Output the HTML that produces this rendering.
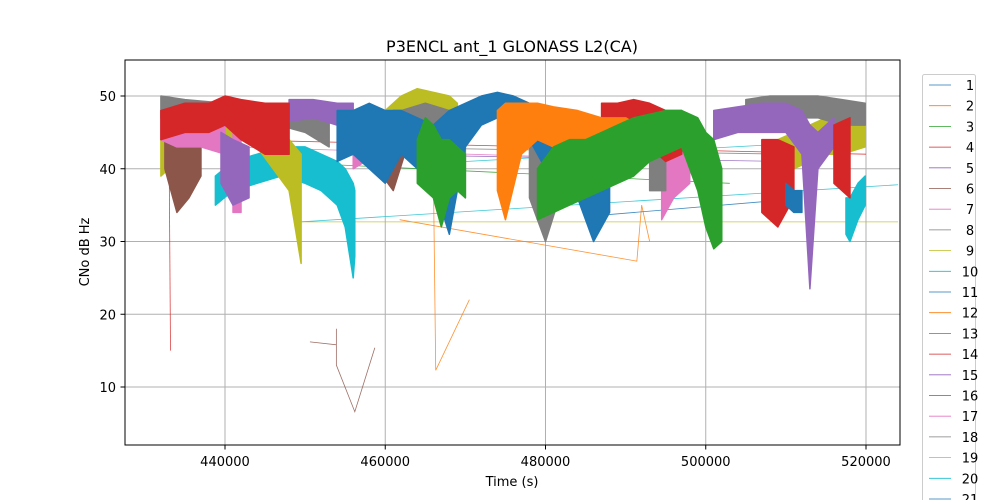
<!DOCTYPE html>
<html><head><meta charset="utf-8"><style>
html,body{margin:0;background:#fff;overflow:hidden;width:1000px;height:500px;}
svg{display:block;}
svg text{font-family:"DejaVu Sans","Liberation Sans",sans-serif;fill:#000;}
</style></head><body>
<svg id="chart" width="1000" height="500" viewBox="0 0 1000 500" xmlns="http://www.w3.org/2000/svg">
<rect x="0" y="0" width="1000" height="500" fill="#fff"/>
<text x="512" y="52" font-size="16" text-anchor="middle">P3ENCL ant_1 GLONASS L2(CA)</text>
<g id="grid"></g>
<g id="plot"></g>
<rect x="125" y="60" width="775" height="385" fill="none" stroke="#000" stroke-width="1"/>
<g id="axes"></g>
<text x="512" y="486" font-size="13" text-anchor="middle">Time (s)</text>
<text x="89" y="252" font-size="13" text-anchor="middle" transform="rotate(-90 89 252)">CNo dB Hz</text>
<g id="legend"></g>
</svg>
<script>
const xTicks=[440000,460000,480000,500000,520000];
const yTicks=[10,20,30,40,50];
const seriesIds=[1,2,3,4,5,6,7,8,9,10,11,12,13,14,15,16,17,18,19,20,21];
const colors=['#1f77b4','#ff7f0e','#2ca02c','#d62728','#9467bd','#8c564b','#e377c2','#7f7f7f','#bcbd22','#17becf'];
const bandColor=[9,9,8,8,8,5,5,6,6,6,6,7,7,7,7,7,4,4,4,3,3,3,3,0,0,1,2,2];
const bandT=[
[438.8,441,444,447,450,452,454,455,456,456.2],[517.5,518,519,519.9],
[432,433,434,436,438,440,442,444,446,448,449.5],[460,462,464,466,468,469],[509,511,513,515,517,519.9],
[432.5,434,435.5,437],[459,461,463,465],[432,434,437,440],[441,442],[456,459,461],[494.5,496,498],
[432,435,440,445,450,453],[459,462,465,468,470],[478,480,482],[493,495],[505,508,511,514,517,519.9],
[439.5,441,443],[448,451,454,456],[501,504,507,510,512,513,514,516],
[432,435,438,440,442,445,448],[487,489,491,493,495,497],[507,509,511],[516,518],
[454,456,458,460,462,464,466,468,470,472,474,476,478,480,482,484,486,488],[510,511,512],
[474,475,477,479,481,484,487,490,491.5],
[464,465,466,467,468,469,470],[479,481,483,485,487,489,491,493,495,497,499,500,501,502]];
const bandHi=[
[39,41,42,43,43,42,41,40,38,37],[36,36,38,39],
[44,46,46,47,47,47,48,47,46,44,42],[48,50,51,50.5,50,49],[44,45,46,47,47,48],
[46,45,44,43],[47,48,48,47],[48,47,47,46],[46,46],[47,48,47],[46,47,46],
[50,49.5,49,49,49,48],[47,48,49,48,47],[45,46,45],[46,46],[49.5,50,50,50,49.5,49],
[45,44,43],[49.5,49.5,49,49],[48,48.5,49,49,48,46,45,47],
[48,49,49,50,49.5,49,49],[49,49,49.5,49,48,48],[44,44,43],[46,47],
[48,48,49,48,48,47,46,48,49,50,50.5,50,49,48,46,45,44,42],[38,37,37],
[48,49,49,49,48.5,48,47,47,46],
[44,47,46,44,44,43,42],[40,43,44,44,45,46,47,47.5,48,48,47,45,44,40]];
const bandLo=[
[35,37,38,39,38,37,35,32,25,28],[31,30,33,35],
[39,40,41,43,43,43,44,43,40,37,27],[42,46,47,47,46,44],[38,40,41,42,42,43],
[40,34,36,39],[40,37,44,42],[44,43,43,42],[34,34],[40,42,41],[33,36,38],
[47,47,47,46.5,45,43],[40,43,44,41,36],[36,30,37],[37,37],[46,46.5,47,47,46,46],
[38,35,36],[46.5,47,46,46],[44,45,45,45,42,23.5,40,43],
[44,45,45,46,44,42,42],[43,44,44,43,41,42],[34,32,36],[38,36],
[41,42,40,38,42,40,38,31,43,46,47,46,44,40,38,36,30,34],[35,34,34],
[37,33,42,44,43,42,41,43,41],
[38,37,36,32,36,37,36],[33,34,35,36,37,38,39,41,42,43,37,32,29,30]];
const lineColor=[5,1,8,9,0,3,7,6,4,2,3,9,1];
const lineT=[[450.6,453.9,453.9,453.9,456.2,458.7],[461.8,491.4,492,493],[449.4,524],[449.4,524],[486.8,511.8],[433,433.2],[456,510],[441,500],[456,510],[445,503],[440,520],[470,520],[466,466.3,470.5]];
const lineV=[[16.2,15.8,18,13,6.6,15.4],[33,27.3,35,30],[32.7,32.7],[32.7,37.8],[33.6,35.9],[46,15],[43,42],[43,41],[42,41],[41,38],[44,42],[41,44],[40,12.3,22]];
const X=t=>125+(t*1000-427520)*0.0080125;
const Y=v=>459.75-v*7.275;
const NS='http://www.w3.org/2000/svg';
function mk(tag,parent){const e=document.createElementNS(NS,tag);parent.appendChild(e);return e;}
const grid=document.getElementById('grid'),axes=document.getElementById('axes'),plot=document.getElementById('plot'),leg=document.getElementById('legend');
xTicks.forEach(v=>{const x=X(v/1000);
 const g=mk('line',grid);g.setAttribute('x1',x);g.setAttribute('x2',x);g.setAttribute('y1',60);g.setAttribute('y2',445);g.setAttribute('stroke','#b0b0b0');
 
 
 const tk=mk('line',axes);tk.setAttribute('x1',x);tk.setAttribute('x2',x);tk.setAttribute('y1',445);tk.setAttribute('y2',449.5);tk.setAttribute('stroke','#000');
 
 
 const t=mk('text',axes);t.setAttribute('x',x);t.setAttribute('y',466);t.setAttribute('font-size','13');t.setAttribute('text-anchor','middle');t.textContent=v;
 
 });
yTicks.forEach(v=>{const y=Y(v);
 const g=mk('line',grid);g.setAttribute('x1',125);g.setAttribute('x2',900);g.setAttribute('y1',y);g.setAttribute('y2',y);g.setAttribute('stroke','#b0b0b0');
 
 
 const tk=mk('line',axes);tk.setAttribute('x1',120.5);tk.setAttribute('x2',125);tk.setAttribute('y1',y);tk.setAttribute('y2',y);tk.setAttribute('stroke','#000');
 
 
 const t=mk('text',axes);t.setAttribute('x',116);t.setAttribute('y',y+5);t.setAttribute('font-size','13');t.setAttribute('text-anchor','end');t.textContent=v;
 
 });
lineT.forEach((ts,i)=>{const p=mk('polyline',plot);
 p.setAttribute('points',ts.map((t,j)=>X(t)+','+Y(lineV[i][j])).join(' '));
 p.setAttribute('fill','none');p.setAttribute('stroke',colors[lineColor[i]]);p.setAttribute('stroke-width','0.8');p.setAttribute('opacity','0.85');
 
 });
bandT.forEach((ts,i)=>{const p=mk('polygon',plot);
 const up=ts.map((t,j)=>X(t)+','+Y(bandHi[i][j]));
 const dn=ts.map((t,j)=>X(t)+','+Y(bandLo[i][j])).reverse();
 p.setAttribute('points',up.concat(dn).join(' '));
 p.setAttribute('fill',colors[bandColor[i]]);p.setAttribute('stroke',colors[bandColor[i]]);p.setAttribute('stroke-width','1.5');p.setAttribute('stroke-linejoin','round');
 
 });
const box=mk('rect',leg);box.setAttribute('x',922.5);box.setAttribute('y',74.5);box.setAttribute('width',53);box.setAttribute('height',440);box.setAttribute('rx',2);box.setAttribute('fill','#fff');box.setAttribute('stroke','#ccc');


seriesIds.forEach((id,i)=>{const y=85+i*20.7;
 const l=mk('line',leg);l.setAttribute('x1',929);l.setAttribute('x2',951);l.setAttribute('y1',y);l.setAttribute('y2',y);l.setAttribute('stroke',colors[i%10]);l.setAttribute('stroke-width','0.8');
 
 
 const t=mk('text',leg);t.setAttribute('x',970);t.setAttribute('y',y+5);t.setAttribute('font-size','13');t.setAttribute('text-anchor','middle');t.textContent=id;
 
 });
</script>
</body></html>
